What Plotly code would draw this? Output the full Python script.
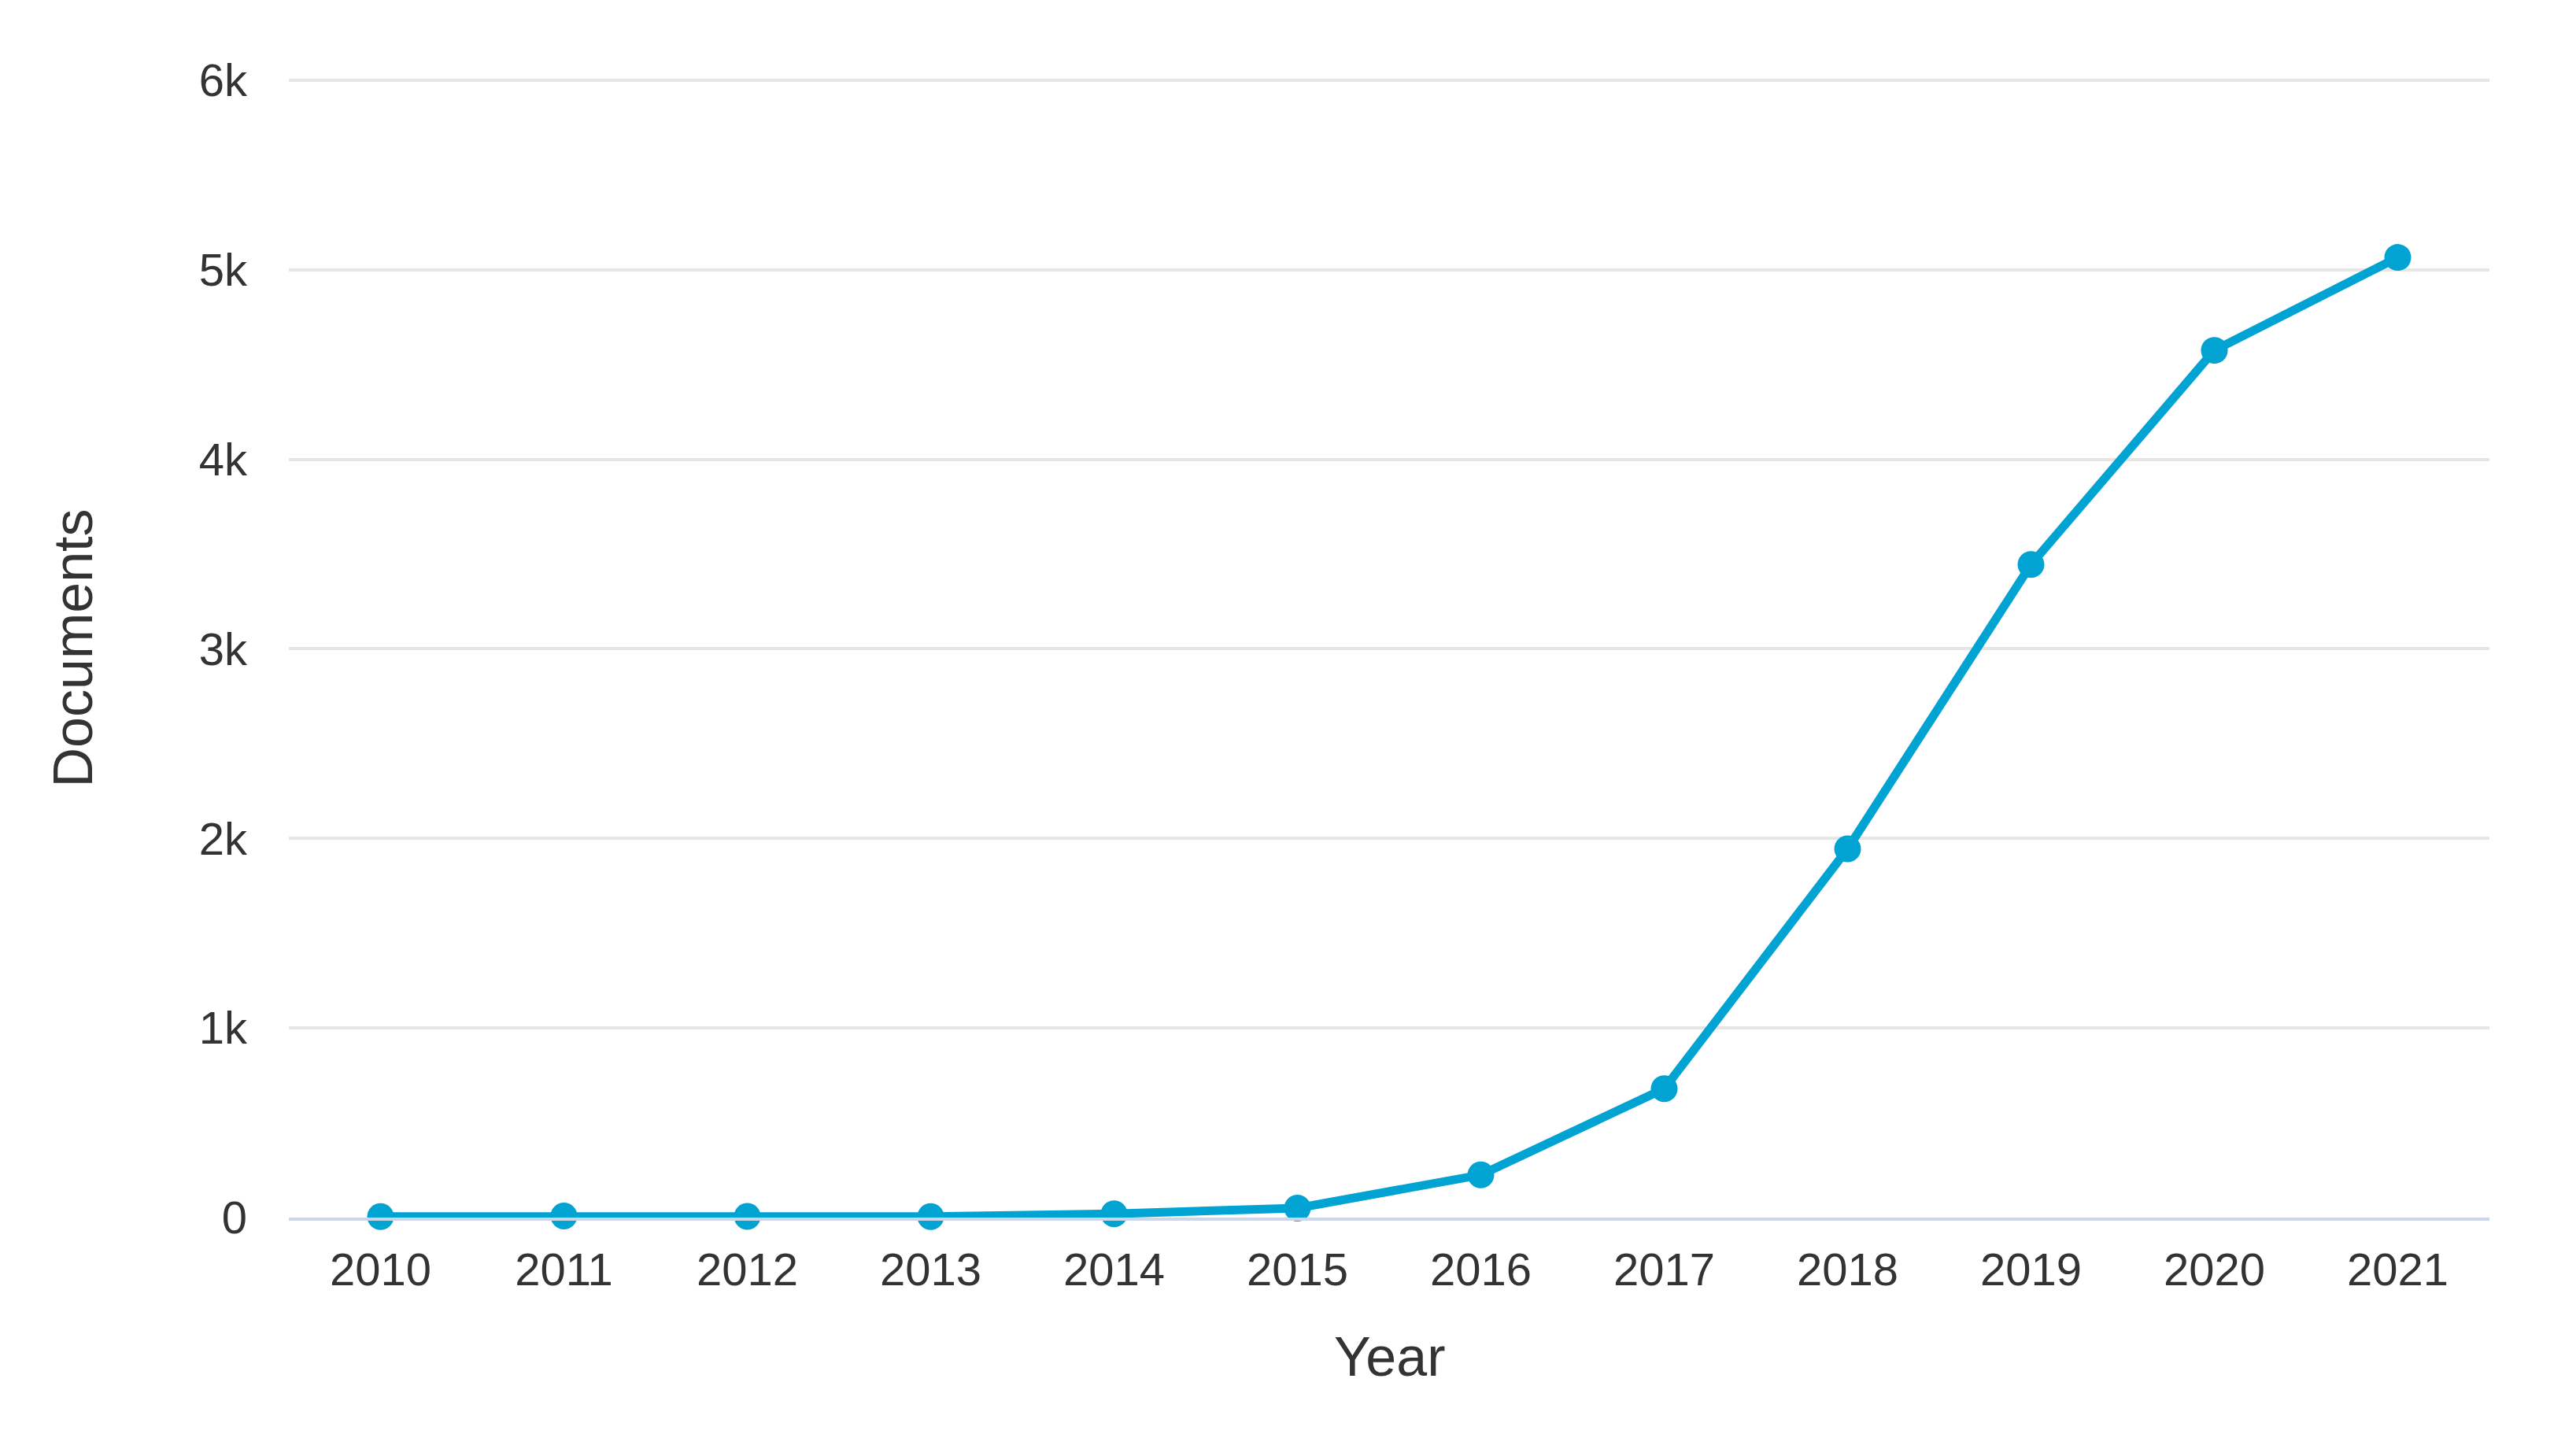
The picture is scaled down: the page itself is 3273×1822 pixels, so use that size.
import plotly.graph_objects as go

years = ["2010", "2011", "2012", "2013", "2014", "2015", "2016", "2017", "2018", "2019", "2020", "2021"]
documents = [5, 8, 6, 5, 20, 50, 225, 680, 1945, 3445, 4575, 5065]
y_tick_values = [0, 1000, 2000, 3000, 4000, 5000, 6000]
y_tick_labels = ["0", "1k", "2k", "3k", "4k", "5k", "6k"]

FONT = "Liberation Sans, Arial, sans-serif"
LINE_COLOR = "#00a3d1"
TEXT_COLOR = "#333333"

# page body adds an 8px margin; compensate so plot area lands at x 367..3163, y 100..1547
W, H = 3257, 1806
ML, MR, MT, MB = 359, 102, 92, 267

fig = go.Figure()
fig.add_trace(go.Scatter(
    x=years, y=documents, mode="lines+markers",
    line=dict(color=LINE_COLOR, width=11),
    marker=dict(color=LINE_COLOR, size=34),
    cliponaxis=False, showlegend=False,
))

fig.update_layout(
    width=W, height=H,
    margin=dict(l=ML, r=MR, t=MT, b=MB),
    paper_bgcolor="white", plot_bgcolor="white",
    font=dict(family=FONT, color=TEXT_COLOR, size=58),
    xaxis=dict(
        type="category",
        range=[-0.5, len(years) - 0.5],
        showgrid=False,
        showline=True, linecolor="#ccd6eb", linewidth=4,
        ticks="", ticklabelstandoff=12,
        tickfont=dict(size=58, color=TEXT_COLOR),
    ),
    yaxis=dict(
        range=[0, 6008],
        tickvals=y_tick_values, ticktext=y_tick_labels,
        showgrid=True, gridcolor="#e6e6e6", gridwidth=4,
        zeroline=False, showline=False,
        ticks="", ticklabelstandoff=52,
        tickfont=dict(size=58, color=TEXT_COLOR),
    ),
    annotations=[
        dict(text="Year", xref="paper", yref="paper", x=0.5, y=0,
             xanchor="center", yanchor="middle", yshift=-177, showarrow=False,
             font=dict(size=70, color=TEXT_COLOR)),
        dict(text="Documents", xref="paper", yref="paper", x=0, y=0.5,
             xanchor="center", yanchor="middle", xshift=-275, textangle=-90,
             showarrow=False, font=dict(size=70, color=TEXT_COLOR)),
    ],
)

fig.write_html("out.html")
